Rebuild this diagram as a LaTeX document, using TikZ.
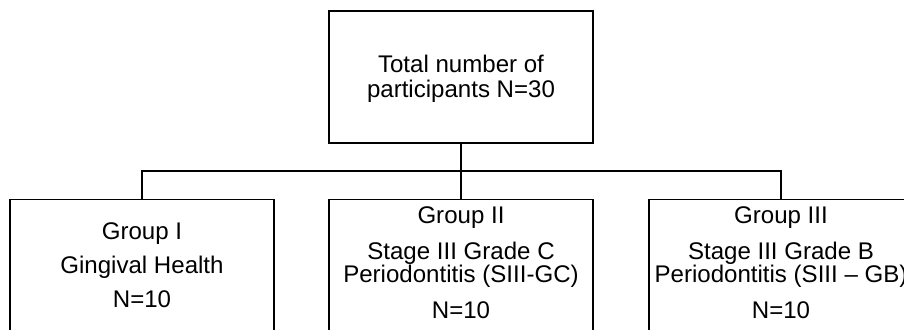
\documentclass[tikz,border=0pt]{standalone}
\usepackage{fontspec}
\setmainfont{Liberation Sans}
\usepackage{tikz}

\begin{document}
\begin{tikzpicture}[x=0.02cm, y=-0.02cm, line width=0.8pt,
    box/.style={draw, rectangle, minimum width=5.28cm, inner sep=0pt},
    label/.style={align=center, anchor=base, font=\fontsize{13.7}{13}\selectfont}]
    % Reference coordinates
    \useasboundingbox (0,0) rectangle (904,329);
    \clip (0,0) rectangle (904,329);
    \coordinate (split) at (461,171);

    % Frames
    \node[box, minimum height=2.64cm] (total) at (461,77) {};
    \node[box, minimum height=3cm, anchor=north] (groupI) at (142,199) {};
    \node[box, minimum height=3cm, anchor=north] (groupII) at (461,199) {};
    \node[box, minimum height=3cm, anchor=north] (groupIII) at (781,199) {};

    % Texts
    \node[label] (totalText) at (461,97) {Total number of\\[0.04cm] participants N=30};
    \node[label] (groupIText) at (142,307) {Group I\\[0.22cm] Gingival Health\\[0.22cm] N=10};
    \node[label] (groupIIText) at (461,318) {Group II\\[0.26cm] Stage III Grade C\\ Periodontitis (SIII-GC)\\[0.26cm] N=10};
    \node[label] (groupIIIText) at (781,318) {Group III\\[0.26cm] Stage III Grade B\\ Periodontitis (SIII -- GB)\\[0.26cm] N=10};

    % Connecting lines
    \draw (total.south) -- (groupII.north);
    \draw (groupI.north) |- (split) -| (groupIII.north);
\end{tikzpicture}
\end{document}
